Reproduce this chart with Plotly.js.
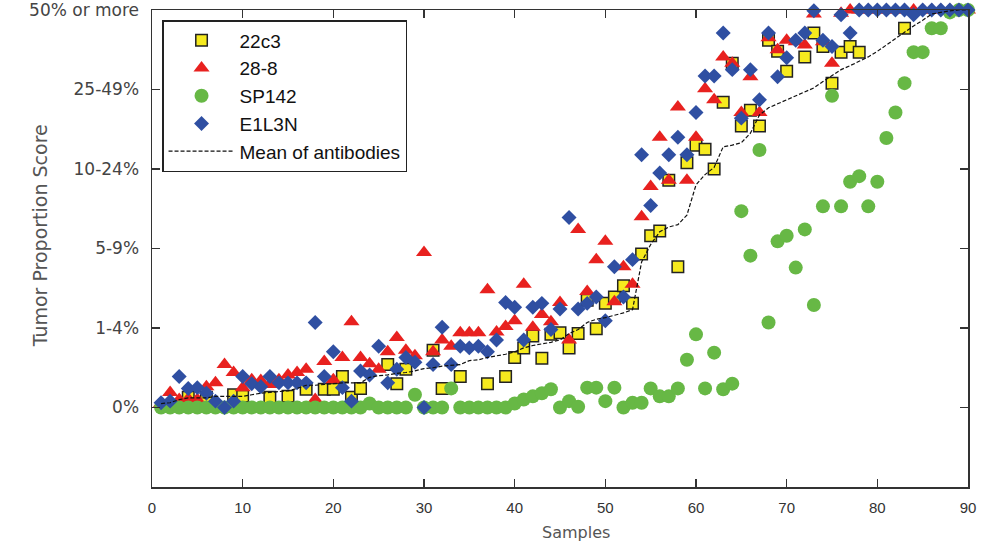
<!DOCTYPE html>
<html>
<head>
<meta charset="utf-8">
<script src="https://cdn.plot.ly/plotly-3.0.1.min.js"></script>
<style>
html,body{margin:0;padding:0;background:#fff;}
#chart{width:987px;height:550px;}
</style>
</head>
<body>
<div id="chart"></div>
<script>
// Sample index 1..90
const samples = Array.from({length: 90}, (_, i) => i + 1);

// Tumor proportion score categories (y axis, one level per unit)
const scoreLevels = [0, 1, 2, 3, 4, 5];
const scoreLabels = ['0%', '1-4%', '5-9%', '10-24%', '25-49%', '50% or more'];

// 22c3 (null = hidden under other markers, not readable)
const ab22c3 = [
  null, null, null, 0.13, null, 0.13, null, null, 0.16, 0.14,
  null, null, 0.13, null, 0.14, null, 0.23, null, 0.23, 0.23,
  0.39, 0.13, 0.24, null, null, 0.54, 0.30, 0.48, null, null,
  0.72, 0.24, null, 0.39, null, null, 0.30, null, 0.39, 0.63,
  0.75, 0.90, 0.62, 0.92, 0.94, 0.75, 0.93, 1.35, 0.99, 1.31,
  1.39, 1.53, 1.31, 1.93, 2.16, 2.22, 2.86, 1.77, 3.08, 3.30,
  3.25, 3.00, 3.84, 4.33, 3.54, 3.74, 3.54, 4.62, 4.48, 4.23,
  null, 4.41, 4.71, 4.54, 4.08, 4.47, 4.54, 4.47, null, null,
  null, null, 4.77, null, null, null, null, null, null, null
];

// 28-8
const ab288 = [
  0.05, 0.19, 0.10, 0.11, 0.10, 0.26, 0.31, 0.54, 0.44, 0.25,
  0.35, 0.34, 0.29, 0.35, 0.41, 0.44, 0.48, 0.10, 0.58, 0.35,
  0.63, 1.08, 0.63, 0.55, 0.48, 0.70, 0.88, 0.72, 0.65, 1.95,
  0.70, 0.85, 0.77, 0.94, 0.94, 0.94, 1.48, 0.95, 1.02, 1.09,
  1.55, 1.01, 1.17, 1.08, 1.32, 0.85, 2.24, 1.46, 1.86, 2.09,
  1.33, 1.77, 1.55, 2.40, 2.78, 3.40, 2.86, 3.78, 2.86, 3.40,
  4.01, 3.87, 4.41, 4.33, 3.71, 4.16, 3.71, 4.65, 4.50, 4.62,
  4.60, 4.56, 4.95, 4.60, 4.33, 4.96, 5, 5, 5, 5,
  5, 5, 5, 5, 5, 5, 5, 5, 5, 5
];

// SP142
const abSP142 = [
  0, 0, 0, 0, 0, 0, 0, 0, 0, 0,
  0, 0, 0, 0, 0, 0, 0, 0, 0, 0,
  0, 0, 0, 0.05, 0, 0, 0, 0, 0.16, 0,
  0, 0, 0.24, 0, 0, 0, 0, 0, 0, 0.05,
  0.10, 0.14, 0.18, 0.23, 0, 0.08, 0.01, 0.25, 0.25, 0.08,
  0.25, 0, 0.06, 0.06, 0.24, 0.14, 0.14, 0.24, 0.60, 0.92,
  0.24, 0.69, 0.23, 0.30, 2.47, 1.91, 3.24, 1.07, 2.09, 2.16,
  1.76, 2.24, 1.29, 2.53, 3.92, 2.53, 2.84, 2.91, 2.53, 2.84,
  3.39, 3.71, 4.08, 4.47, 4.47, 4.77, 4.77, 4.97, 5, 5
];

// E1L3N
const abE1L3N = [
  0.06, 0.08, 0.39, 0.24, 0.25, 0.18, 0.08, 0, 0.08, 0.39,
  0.30, 0.26, 0.39, 0.31, 0.31, 0.31, 0.31, 1.07, 0.39, 0.70,
  0.25, 0.08, 0.46, 0.41, 0.77, 0.31, 0.48, 0.63, 0.57, 0,
  0.54, 1.01, 0.54, 0.77, 0.75, 0.77, 0.70, 0.85, 1.32, 1.26,
  0.85, 1.26, 1.31, 0.98, 1.24, 2.39, 1.24, 1.31, 1.39, 1.09,
  1.77, 1.39, 1.86, 3.18, 2.54, 2.95, 3.18, 3.40, 3.18, 3.71,
  4.17, 4.17, 4.71, 4.25, 3.64, 4.25, 3.87, 4.71, 4.16, 4.40,
  4.62, 4.71, 4.99, 4.62, 4.54, 4.94, 4.71, 5, 5, 5,
  5, 5, 5, 4.94, 5, 5, 5, 5, 5, 5
];

// Mean of antibodies
const abMean = [
  0.05, 0.06, 0.10, 0.12, 0.12, 0.12, 0.14, 0.14, 0.14, 0.14,
  0.16, 0.18, 0.19, 0.20, 0.21, 0.24, 0.28, 0.28, 0.29, 0.30,
  0.31, 0.31, 0.31, 0.38, 0.40, 0.41, 0.43, 0.44, 0.46, 0.49,
  0.50, 0.52, 0.53, 0.54, 0.59, 0.60, 0.63, 0.65, 0.67, 0.70,
  0.75, 0.78, 0.80, 0.82, 0.85, 0.93, 0.98, 1.07, 1.11, 1.13,
  1.16, 1.19, 1.23, 1.83, 2.05, 2.21, 2.27, 2.30, 2.42, 2.80,
  2.93, 3.02, 3.28, 3.30, 3.33, 3.45, 3.68, 3.77, 3.82, 3.87,
  3.91, 3.97, 4.02, 4.10, 4.18, 4.25, 4.30, 4.35, 4.41, 4.48,
  4.56, 4.65, 4.72, 4.80, 4.87, 4.95, 4.97, 4.99, 5, 5
];

const traces = [
  {x: samples, y: ab22c3, name: '22c3', type: 'scatter', mode: 'markers', cliponaxis: false,
   marker: {symbol: 'square', size: 11.5, color: '#f6ea1e', line: {color: '#222', width: 1.5}}},
  {x: samples, y: ab288, name: '28-8', type: 'scatter', mode: 'markers', cliponaxis: false,
   marker: {symbol: 'triangle-up', size: 14, color: '#e8211f'}},
  {x: samples, y: abSP142, name: 'SP142', type: 'scatter', mode: 'markers', cliponaxis: false,
   marker: {symbol: 'circle', size: 14, color: '#67b845'}},
  {x: samples, y: abE1L3N, name: 'E1L3N', type: 'scatter', mode: 'markers', cliponaxis: false,
   marker: {symbol: 'diamond', size: 11.5, color: '#2f4fa2'}},
  {x: samples, y: abMean, name: 'Mean of antibodies', type: 'scatter', mode: 'lines', cliponaxis: false,
   line: {color: '#111', width: 1.2, dash: '4px,2px'}}
];

const layout = {
  width: 987, height: 550,
  margin: {l: 152, r: 19, t: 10, b: 63},
  paper_bgcolor: '#fff', plot_bgcolor: '#fff',
  showlegend: true,
  legend: {
    x: 0.0123, y: 0.979, xanchor: 'left', yanchor: 'top',
    bgcolor: '#fff', bordercolor: '#222', borderwidth: 1.5,
    font: {family: 'Liberation Sans, Arial, sans-serif', size: 19, color: '#111'},
    itemwidth: 66
  },
  xaxis: {
    range: [0, 90], tickvals: [0,10,20,30,40,50,60,70,80,90],
    ticks: 'inside', ticklen: 8, tickwidth: 1.3, tickcolor: '#333',
    showline: true, linecolor: '#333', linewidth: 1.5, mirror: 'ticks',
    showgrid: false, zeroline: false,
    ticklabelstandoff: 6,
    tickfont: {family: 'Liberation Sans, Arial, sans-serif', size: 15, color: '#333'}
  },
  yaxis: {
    range: [-1, 5.0001], tickvals: scoreLevels, ticktext: scoreLabels,
    ticks: 'inside', ticklen: 8, tickwidth: 1.3, tickcolor: '#333',
    showline: true, linecolor: '#333', linewidth: 1.5, mirror: 'ticks',
    showgrid: false, zeroline: false,
    ticklabelstandoff: 8, ticklabeloverflow: 'allow',
    tickfont: {family: 'DejaVu Sans, sans-serif', size: 17, color: '#444'}
  },
  annotations: [
    {text: 'Samples', xref: 'paper', yref: 'paper', x: 0.519, y: -0.096,
     xanchor: 'center', yanchor: 'middle', showarrow: false,
     font: {family: 'DejaVu Sans, sans-serif', size: 16, color: '#555'}},
    {text: 'Tumor Proportion Score', xref: 'paper', yref: 'paper', x: -0.137, y: 0.526,
     xanchor: 'center', yanchor: 'middle', showarrow: false, textangle: -90,
     font: {family: 'DejaVu Sans, sans-serif', size: 19, color: '#555'}}
  ]
};

Plotly.newPlot('chart', traces, layout, {displayModeBar: false, staticPlot: true});
</script>
</body>
</html>
